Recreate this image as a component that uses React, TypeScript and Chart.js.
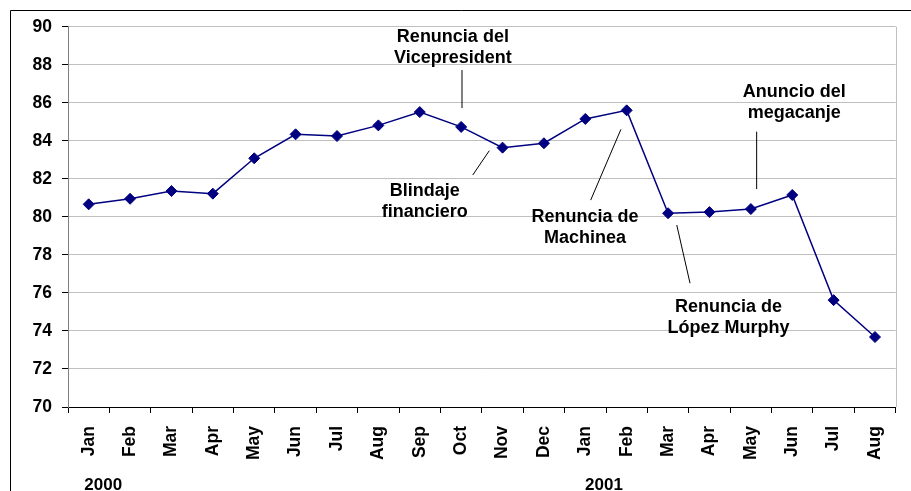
import React, { useEffect, useRef } from 'react';
import { Chart, registerables } from 'chart.js';

Chart.register(...registerables);

// ---- data ----
const months = ['Jan', 'Feb', 'Mar', 'Apr', 'May', 'Jun', 'Jul', 'Aug', 'Sep', 'Oct', 'Nov', 'Dec',
  'Jan', 'Feb', 'Mar', 'Apr', 'May', 'Jun', 'Jul', 'Aug'];
const values = [80.66, 80.95, 81.36, 81.22, 83.08, 84.34, 84.25, 84.81, 85.51, 84.73, 83.64, 83.87,
  85.15, 85.6, 80.19, 80.25, 80.41, 81.15, 75.62, 73.68];
const yMin = 70;
const yMax = 90;
const yStep = 2;

const yearLabels = ['2000', '2001'];
const yearCenterIndex = [0.35, 12.45];

const annotationTexts = [
  ['Renuncia del', 'Vicepresident'],
  ['Blindaje', 'financiero'],
  ['Renuncia de', 'Machinea'],
  ['Anuncio del', 'megacanje'],
  ['Renuncia de', 'López Murphy'],
];
// [category index, value] of the first text baseline
const annotationAt = [[8.8, 89.21], [8.12, 81.1], [11.99, 79.74], [17.05, 86.32], [15.46, 75.01]];
const leaderFrom = [[9.02, 87.72], [9.28, 82.2], [12.13, 80.88], [16.14, 84.48], [14.21, 79.57]];
const leaderTo = [[9.02, 85.72], [9.68, 83.48], [12.86, 84.6], [16.14, 81.46], [14.53, 76.51]];

const FONT = '"Liberation Sans", Arial, Helvetica, sans-serif';
const NAVY = '#000080';

const overlayPlugin = {
  id: 'overlay',
  afterDraw(chart: any) {
    const { ctx, chartArea, scales } = chart;
    const xs = scales.x;
    const ys = scales.y;
    ctx.save();
    // plot area right border
    ctx.strokeStyle = '#c0c0c0';
    ctx.lineWidth = 1;
    ctx.beginPath();
    ctx.moveTo(Math.round(chartArea.right) + 0.5, chartArea.top);
    ctx.lineTo(Math.round(chartArea.right) + 0.5, chartArea.bottom);
    ctx.stroke();
    // outer frame
    ctx.strokeStyle = '#000';
    ctx.beginPath();
    ctx.moveTo(10.5, chart.height + 5);
    ctx.lineTo(10.5, 10.5);
    ctx.lineTo(chart.width + 5, 10.5);
    ctx.stroke();
    // leader lines
    ctx.strokeStyle = '#000';
    ctx.lineWidth = 1;
    for (let i = 0; i < leaderFrom.length; i++) {
      ctx.beginPath();
      ctx.moveTo(xs.getPixelForValue(leaderFrom[i][0]), ys.getPixelForValue(leaderFrom[i][1]));
      ctx.lineTo(xs.getPixelForValue(leaderTo[i][0]), ys.getPixelForValue(leaderTo[i][1]));
      ctx.stroke();
    }
    // annotation texts
    ctx.fillStyle = '#000';
    ctx.font = 'bold 18px ' + FONT;
    ctx.textAlign = 'center';
    ctx.textBaseline = 'alphabetic';
    for (let i = 0; i < annotationTexts.length; i++) {
      const x = xs.getPixelForValue(annotationAt[i][0]);
      const y = ys.getPixelForValue(annotationAt[i][1]);
      annotationTexts[i].forEach((t, k) => ctx.fillText(t, x, y + k * 21.5));
    }
    // year labels
    ctx.font = 'bold 17px ' + FONT;
    for (let i = 0; i < yearLabels.length; i++) {
      ctx.fillText(yearLabels[i], xs.getPixelForValue(yearCenterIndex[i]), chart.height - 1);
    }
    ctx.restore();
  },
};

export default function App() {
  const ref = useRef<HTMLCanvasElement | null>(null);
  useEffect(() => {
    if (!ref.current) return;
    const chart = new Chart(ref.current, {
      type: 'line',
      data: {
        labels: months,
        datasets: [
          {
            data: values,
            borderColor: NAVY,
            backgroundColor: NAVY,
            borderWidth: 1.5,
            pointStyle: 'rectRot',
            pointRadius: 5.5,
            pointBorderWidth: 1,
            pointBackgroundColor: NAVY,
            pointBorderColor: NAVY,
            tension: 0,
          },
        ],
      },
      options: {
        animation: false,
        responsive: false,
        layout: { padding: { left: 0, top: 26.7, right: 15.3, bottom: 0 } },
        plugins: { legend: { display: false }, tooltip: { enabled: false }, title: { display: false } },
        scales: {
          x: {
            type: 'category',
            offset: true,
            grid: { drawOnChartArea: false, drawTicks: true, tickLength: 6, tickColor: '#000', offset: true },
            border: { color: '#000', width: 1 },
            ticks: {
              autoSkip: false,
              minRotation: 90,
              maxRotation: 90,
              padding: 13,
              color: '#000',
              font: { family: FONT, size: 17.5, weight: 'bold' },
            },
            afterFit(scale: any) {
              scale.height = 84;
              scale.paddingLeft = 0;
              scale.paddingRight = 0;
            },
          },
          y: {
            min: yMin,
            max: yMax,
            ticks: {
              stepSize: yStep,
              padding: 10,
              color: '#000',
              font: { family: FONT, size: 17.5, weight: 'bold' },
            },
            grid: { color: '#c0c0c0', lineWidth: 1, tickLength: 6, tickColor: '#000' },
            border: { color: '#808080', width: 1 },
            afterFit(scale: any) {
              scale.width = 68;
              scale.paddingTop = 0;
              scale.paddingBottom = 0;
            },
          },
        },
      },
      plugins: [overlayPlugin],
    } as any);
    return () => chart.destroy();
  }, []);
  return (
    <div style={{ position: 'absolute', left: 0, top: 0, width: 911, height: 491, background: '#fff' }}>
      <canvas ref={ref} width={911} height={491} style={{ display: 'block' }} />
    </div>
  );
}
